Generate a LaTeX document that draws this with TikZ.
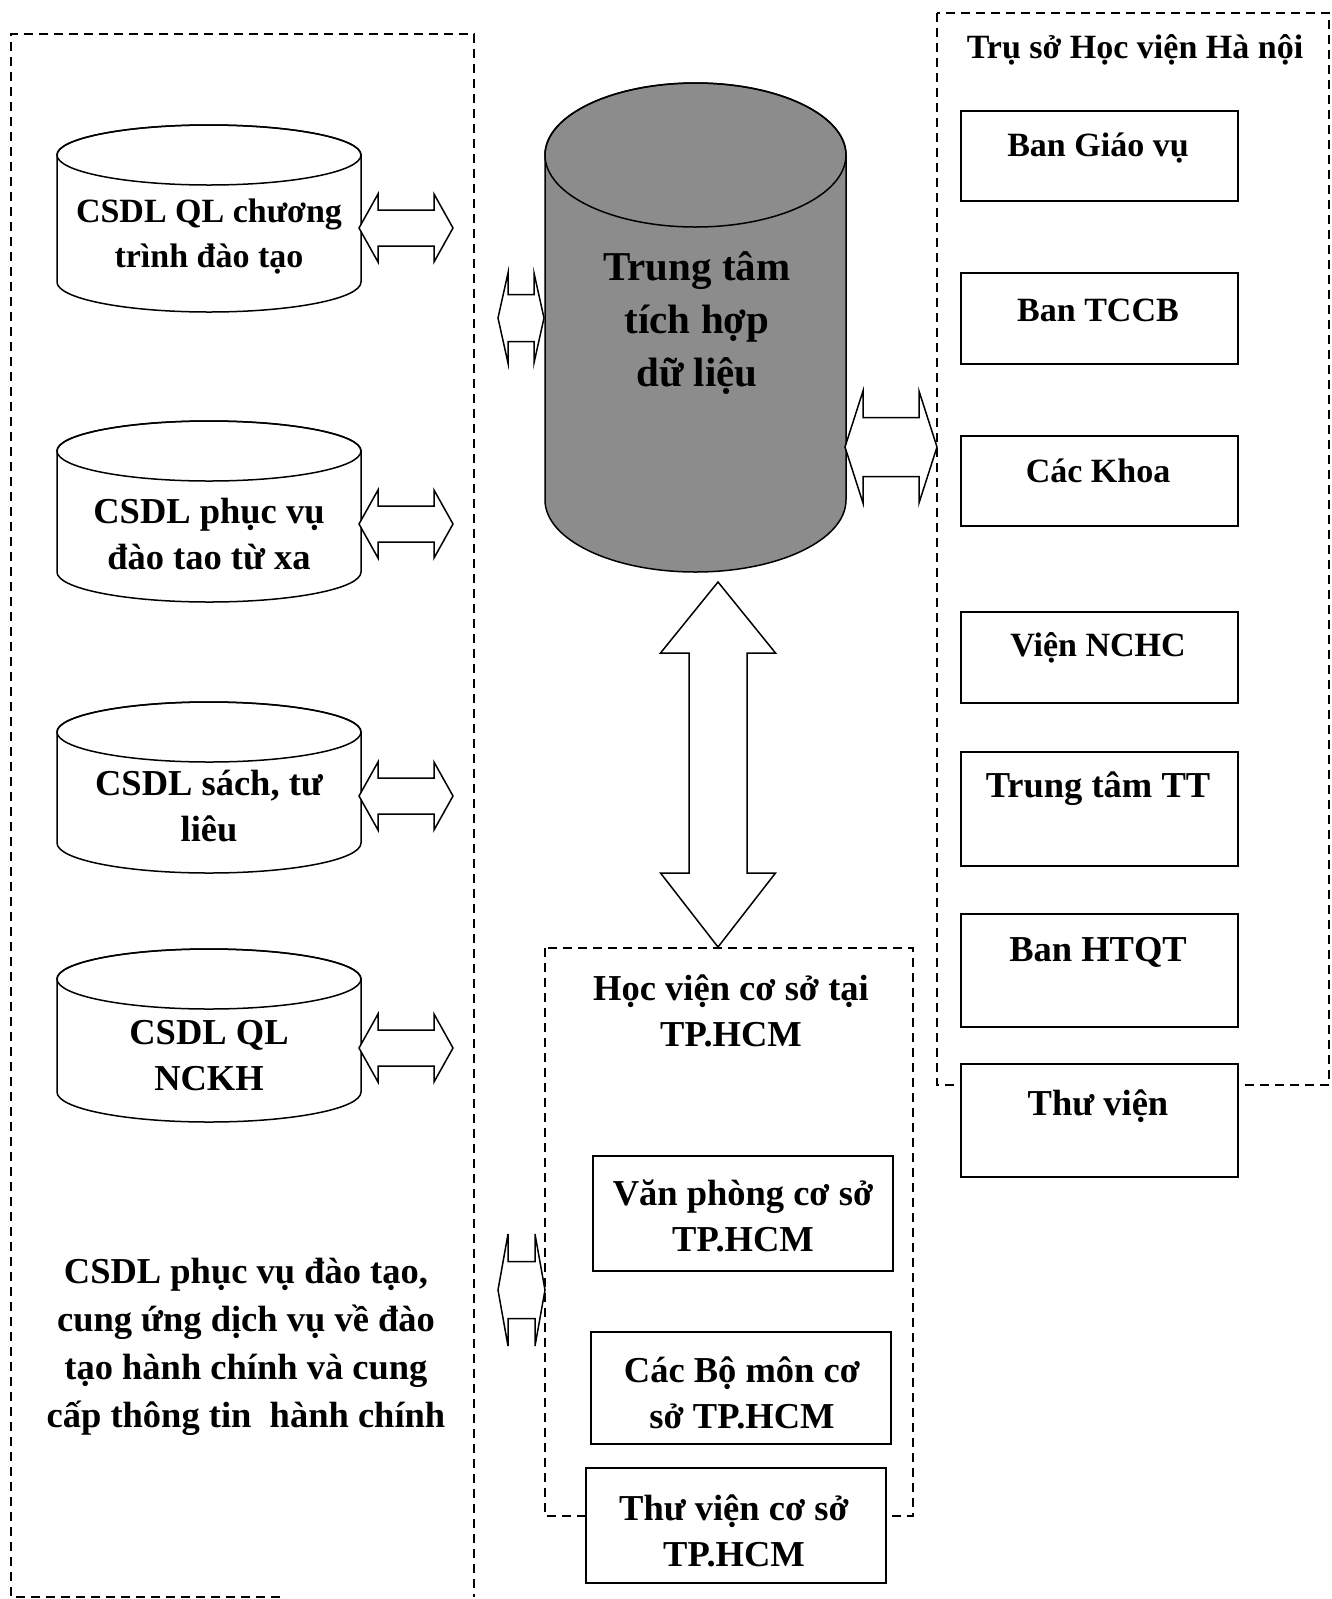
\documentclass[tikz,border=0pt]{standalone}
\usepackage{fontspec}
\setmainfont{Liberation Serif}
\newcommand\drawcyl[6][]{%
  \filldraw[cylstyle,#1] (#2,#4) -- (#2,#5) arc[start angle=180,end angle=0,x radius={(#3-#2)/2},y radius=#6] -- (#3,#4) arc[start angle=0,end angle=-180,x radius={(#3-#2)/2},y radius=#6] -- cycle;
  \draw[cylstyle,#1,fill=none] ({(#2+#3)/2},#4) ellipse [x radius={(#3-#2)/2},y radius=#6];}
\newcommand\hdarrow[6]{%
  \draw[blockarrow] ({#1-#3},#2) -- ({#1-#3+#4},{#2-#5}) -- ({#1-#3+#4},{#2-#6}) -- ({#1+#3-#4},{#2-#6}) -- ({#1+#3-#4},{#2-#5}) -- ({#1+#3},#2) -- ({#1+#3-#4},{#2+#5}) -- ({#1+#3-#4},{#2+#6}) -- ({#1-#3+#4},{#2+#6}) -- ({#1-#3+#4},{#2+#5}) -- cycle;}
\begin{document}
\begin{tikzpicture}[x=1pt,y=-1pt,
  solidbox/.style={draw,line width=1.5pt,fill=white,inner sep=0pt,anchor=north west},
  dashframe/.style={draw,line width=1.4pt,dash pattern=on 9pt off 6pt},
  lbl/.style={font=\bfseries\fontsize{34}{45}\selectfont,align=center,inner sep=0pt},
  lblL/.style={font=\bfseries\fontsize{36.5}{46}\selectfont,align=center,inner sep=0pt},
  notelbl/.style={font=\bfseries\fontsize{36.5}{48}\selectfont,align=center,inner sep=0pt},
  biglbl/.style={font=\bfseries\fontsize{41}{53}\selectfont,align=center,inner sep=0pt},
  blockarrow/.style={draw,line width=1.5pt,fill=white,line join=miter},
  cylstyle/.style={draw,line width=1.5pt,fill=white}]
\useasboundingbox (0,0) rectangle (1332,1599);
% frames
\draw[dashframe] (280,1597) -- (11,1597) -- (11,34) -- (474,34) -- (474,1597);
\draw[dashframe] (937,13) rectangle (1329,1085);
\draw[dashframe] (545,948) rectangle (913,1516);
% left cylinders
\drawcyl{57}{361}{155}{282}{30}
\drawcyl{57}{361}{451}{572}{30}
\drawcyl{57}{361}{732}{843}{30}
\drawcyl{57}{361}{979}{1092}{30}
\node[lbl] (c1) at (209,237) {CSDL QL chương\\trình đào tạo};
\node[lblL] (c2) at (209,534) {CSDL phục vụ\\đào tao từ xa};
\node[lblL] (c3) at (209,806) {CSDL sách, tư\\liêu};
\node[lblL] (c4) at (209,1056) {CSDL QL\\NCKH};
\node[notelbl] (note) at (246,1347) {CSDL phục vụ đào tạo,\\cung ứng dịch vụ về đào\\tạo hành chính và cung\\cấp thông tin\ \ hành chính};
% central cylinder
\drawcyl[fill=black!45]{545}{846}{155}{500}{72}
\node[biglbl] (center) at (697,323) {Trung tâm\\tích hợp\\dữ liệu};
% right frame content
\node[lbl] (hn) at (1135,50) {Trụ sở Học viện Hà nội};
\node[solidbox,minimum width=277pt,minimum height=90pt] (b1) at (960,110) {};
\node[solidbox,minimum width=277pt,minimum height=91pt] (b2) at (960,272) {};
\node[solidbox,minimum width=277pt,minimum height=90pt] (b3) at (960,435) {};
\node[solidbox,minimum width=277pt,minimum height=91pt] (b4) at (960,611) {};
\node[solidbox,minimum width=277pt,minimum height=114pt] (b5) at (960,751) {};
\node[solidbox,minimum width=277pt,minimum height=113pt] (b6) at (960,913) {};
\node[solidbox,minimum width=277pt,minimum height=113pt] (b7) at (960,1063) {};
\node[lbl] (t1) at (1098,148) {Ban Giáo vụ};
\node[lbl] (t2) at (1098,310) {Ban TCCB};
\node[lbl] (t3) at (1098,471) {Các Khoa};
\node[lbl] (t4) at (1098,648) {Viện NCHC};
\node[lblL] (t5) at (1098,789) {Trung tâm TT};
\node[lblL] (t6) at (1098,952) {Ban HTQT};
\node[lblL] (t7) at (1098,1106) {Thư viện};
% middle frame content
\node[lblL] (hcm) at (731,1011) {Học viện cơ sở tại\\TP.HCM};
\node[solidbox,minimum width=300pt,minimum height=115pt] (m1) at (592,1155) {};
\node[solidbox,minimum width=300pt,minimum height=112pt] (m2) at (590,1331) {};
\node[solidbox,minimum width=300pt,minimum height=115pt] (m3) at (585,1467) {};
\node[lblL] (mt1) at (743,1216) {Văn phòng cơ sở\\TP.HCM};
\node[lblL] (mt2) at (742,1393) {Các Bộ môn cơ\\sở TP.HCM};
\node[lblL] (mt3) at (734,1531) {Thư viện cơ sở\\TP.HCM};
% block arrows
\hdarrow{406}{228}{47}{19}{34}{18}
\hdarrow{406}{524}{47}{19}{34}{18}
\hdarrow{406}{796}{47}{19}{34}{18}
\hdarrow{406}{1048}{47}{19}{34}{18}
\hdarrow{521}{318}{23}{10}{45}{23.5}
\hdarrow{891}{447}{46}{18}{56}{29.5}
\hdarrow{521.5}{1290}{23.5}{10}{56}{28.5}
\draw[blockarrow] (718,582) -- (775.5,653) -- (747,653) -- (747,873) -- (775.5,873) -- (718,947) -- (660.5,873) -- (689,873) -- (689,653) -- (660.5,653) -- cycle;
\end{tikzpicture}
\end{document}
